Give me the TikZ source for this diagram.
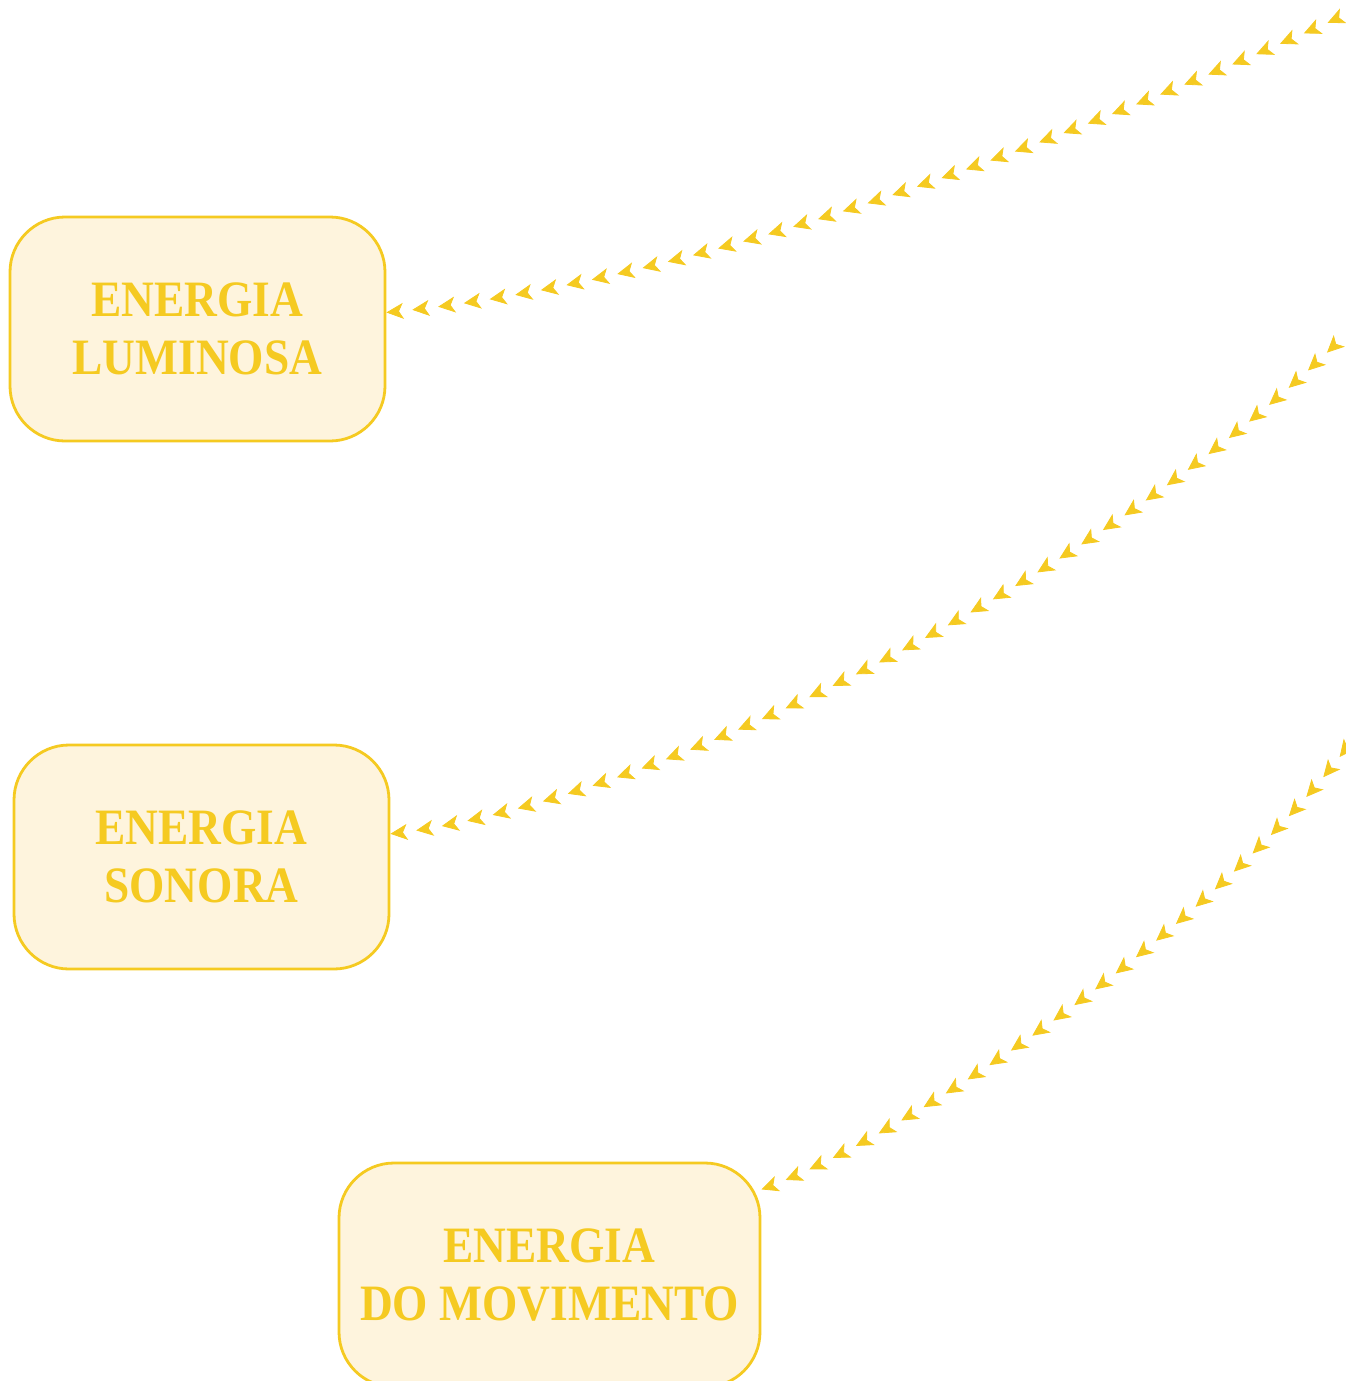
\documentclass[tikz,border=0pt]{standalone}
\usepackage{fontspec}
\setmainfont[FakeStretch=0.89]{Liberation Serif}
\usetikzlibrary{arrows.meta,decorations.markings}
\definecolor{enyellow}{HTML}{F5CA21}
\definecolor{enfill}{HTML}{FEF4DD}
\tikzset{
	energybox/.style={draw=enyellow, fill=enfill, line width=1.4pt, rounded corners=27.5pt,
		minimum width=187.5pt, minimum height=112pt, align=center, text=enyellow,
		font=\bfseries\fontsize{25.5}{29}\selectfont},
	arrowtrail/.style={decorate, decoration={markings,
		mark=between positions 0 and 1 step 13pt with {\arrowreversed{Stealth[length=8.5pt,width=8pt,inset=2.2pt,color=enyellow]}}}}
}

\begin{document}
\begin{tikzpicture}[x=0.5pt, y=-0.5pt]
	\useasboundingbox (0,0) rectangle (1345,1381);
		\node[energybox] (lum) at (197.5,329) {ENERGIA\\LUMINOSA};
		\node[energybox] (son) at (201.5,857) {ENERGIA\\SONORA};
		\node[energybox, minimum width=210.5pt] (mov) at (549.5,1275) {ENERGIA\\DO MOVIMENTO};
		\coordinate (lumsrc) at (1345,15);
		\coordinate (sonsrc) at (1345,335);
		\coordinate (movsrc) at (1345,750);
	%	trails of arrowheads from the right edge
		\path[arrowtrail] (lum.5) .. controls (685,285) and (1045,150) .. (lumsrc);
		\path[arrowtrail] (son.7) .. controls (650,805) and (1100,580) .. (sonsrc);
		\path[arrowtrail] (mov.22) .. controls (900,1140) and (1200,940) .. (movsrc);
\end{tikzpicture}
\end{document}
